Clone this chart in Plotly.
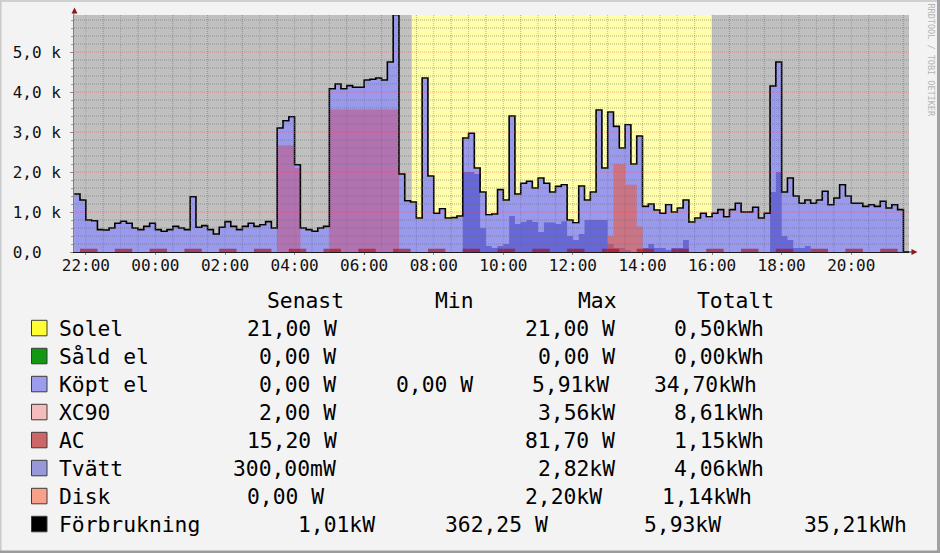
import plotly.graph_objects as go
from datetime import datetime, timedelta

# ---------------- DATA (kW, 10-minute steps starting 21:40) ----------------
slot_start = datetime(2024, 3, 10, 21, 40)
slot_minutes = 10

forbrukning = [
    1.45, 1.30, 0.80, 0.78, 0.56, 0.55, 0.60, 0.72, 0.77, 0.72, 0.60, 0.56,
    0.64, 0.72, 0.56, 0.52, 0.56, 0.64, 0.60, 0.56, 1.38, 0.62, 0.66, 0.56,
    0.45, 0.62, 0.76, 0.64, 0.56, 0.64, 0.72, 0.64, 0.68, 0.76, 0.60, 3.10,
    3.28, 3.38, 2.18, 0.60, 0.56, 0.52, 0.60, 0.64, 4.08, 4.20, 4.08, 4.16,
    4.12, 4.12, 4.30, 4.32, 4.35, 4.30, 4.75, 5.93, 1.95, 1.28, 1.25, 0.85,
    4.35, 1.90, 0.97, 1.08, 0.85, 0.86, 0.90, 2.85, 2.97, 2.10, 1.50, 0.93,
    0.95, 1.56, 1.30, 3.40, 1.45, 1.72, 1.77, 1.60, 1.85, 1.72, 1.50, 1.64,
    1.68, 0.80, 0.73, 1.65, 1.30, 1.50, 3.55, 2.10, 3.50, 3.14, 2.60, 3.18,
    2.20, 2.90, 1.14, 1.20, 1.05, 0.97, 1.18, 1.00, 1.10, 1.30, 0.75, 0.85,
    0.97, 0.88, 0.97, 1.06, 0.88, 1.06, 1.22, 1.00, 1.00, 1.12, 0.85, 0.97,
    4.15, 4.75, 1.50, 1.85, 1.40, 1.22, 1.30, 1.22, 1.30, 1.52, 1.18, 1.35,
    1.68, 1.40, 1.22, 1.22, 1.14, 1.18, 1.14, 1.27, 1.10, 1.18, 1.06, 0.00,
]

solel = [0.021] * len(forbrukning)  # constant 21 W all day (legend: min = max = 21,00 W)

xc90 = [
    0, 0, 0, 0, 0, 0, 0, 0, 0, 0, 0, 0,
    0, 0, 0, 0, 0, 0, 0, 0, 0, 0, 0, 0,
    0, 0, 0, 0, 0, 0, 0, 0, 0, 0, 0, 2.67,
    2.67, 2.67, 2.10, 0, 0, 0, 0, 0, 3.56, 3.56, 3.56, 3.56,
    3.56, 3.56, 3.56, 3.56, 3.56, 3.56, 3.56, 3.56, 0, 0, 0, 0,
    0, 0, 0, 0, 0, 0, 0, 0, 0, 0, 0, 0,
    0, 0, 0, 0, 0, 0, 0, 0, 0, 0, 0, 0,
    0, 0, 0, 0, 0, 0, 0, 0, 0, 0, 0, 0,
    0, 0, 0, 0, 0, 0, 0, 0, 0, 0, 0, 0,
    0, 0, 0, 0, 0, 0, 0, 0, 0, 0, 0, 0,
    0, 0, 0, 0, 0, 0, 0, 0, 0, 0, 0, 0,
    0, 0, 0, 0, 0, 0, 0, 0, 0, 0, 0, 0,
]

ac = [
    0, 0.08, 0.08, 0.08, 0, 0, 0, 0.08, 0.08, 0.08, 0, 0,
    0, 0.08, 0.08, 0.08, 0, 0, 0, 0.08, 0.08, 0.08, 0, 0,
    0, 0.08, 0.08, 0.08, 0, 0, 0, 0.08, 0.08, 0.08, 0, 0,
    0, 0.08, 0.08, 0.08, 0, 0, 0, 0.08, 0.08, 0.08, 0, 0,
    0, 0.08, 0.08, 0.08, 0, 0, 0, 0.08, 0.08, 0.08, 0, 0,
    0, 0.08, 0.08, 0.08, 0, 0, 0, 0.08, 0.08, 0.08, 0, 0,
    0, 0.08, 0.08, 0.08, 0, 0, 0, 0.08, 0.08, 0.08, 0, 0,
    0, 0.08, 0.08, 0.08, 0, 0, 0, 0.08, 0.08, 0.08, 0, 0,
    0, 0.08, 0.08, 0.08, 0, 0, 0, 0.08, 0.08, 0.08, 0, 0,
    0, 0.08, 0.08, 0.08, 0, 0, 0, 0.08, 0.08, 0.08, 0, 0,
    0, 0.08, 0.08, 0.08, 0, 0, 0, 0.08, 0.08, 0.08, 0, 0,
    0, 0.08, 0.08, 0.08, 0, 0, 0, 0.08, 0.08, 0.08, 0, 0,
]

tvatt = [
    0, 0, 0, 0, 0, 0, 0, 0, 0, 0, 0, 0,
    0, 0, 0, 0, 0, 0, 0, 0, 0, 0, 0, 0,
    0, 0, 0, 0, 0, 0, 0, 0, 0, 0, 0, 0,
    0, 0, 0, 0, 0, 0, 0, 0, 0, 0, 0, 0,
    0, 0, 0, 0, 0, 0, 0, 0, 0, 0, 0, 0,
    0, 0, 0, 0, 0, 0, 0, 2.00, 2.00, 1.95, 0.60, 0.15,
    0.10, 0.15, 0.20, 0.90, 0.70, 0.75, 0.80, 0.75, 0.50, 0.74, 0.74, 0.70,
    0.77, 0.40, 0.30, 0.45, 0.80, 0.80, 0.80, 0.80, 0.20, 0.10, 0.10, 0.05,
    0, 0, 0.10, 0.20, 0.10, 0.10, 0.05, 0.10, 0.10, 0.30, 0, 0,
    0, 0, 0, 0, 0, 0, 0, 0, 0, 0, 0, 0,
    1.50, 2.00, 0.40, 0.30, 0.10, 0.10, 0.15, 0, 0, 0, 0, 0,
    0, 0, 0, 0, 0, 0, 0, 0, 0, 0, 0, 0,
]

disk = [
    0, 0, 0, 0, 0, 0, 0, 0, 0, 0, 0, 0,
    0, 0, 0, 0, 0, 0, 0, 0, 0, 0, 0, 0,
    0, 0, 0, 0, 0, 0, 0, 0, 0, 0, 0, 0,
    0, 0, 0, 0, 0, 0, 0, 0, 0, 0, 0, 0,
    0, 0, 0, 0, 0, 0, 0, 0, 0, 0, 0, 0,
    0, 0, 0, 0, 0, 0, 0, 0, 0, 0, 0, 0,
    0, 0, 0, 0, 0, 0, 0, 0, 0, 0, 0, 0,
    0, 0, 0, 0, 0, 0, 0, 0, 0.40, 2.20, 2.20, 1.68,
    1.68, 0.64, 0.05, 0, 0, 0, 0, 0, 0, 0, 0, 0,
    0, 0, 0, 0, 0, 0, 0, 0, 0, 0, 0, 0,
    0, 0, 0, 0, 0, 0, 0, 0, 0, 0, 0, 0,
    0, 0, 0, 0, 0, 0, 0, 0, 0, 0, 0, 0,
]

# Köpt el = Förbrukning - Solel (as in the RRD definitions)
kopt_el = [max(0.0, f - s) for f, s in zip(forbrukning, solel)]

x_start = datetime(2024, 3, 10, 21, 39, 36)
x_end = x_start + timedelta(hours=24)
daylight_start = datetime(2024, 3, 11, 7, 22)
daylight_end = datetime(2024, 3, 11, 16, 0)

x_tick_times = [datetime(2024, 3, 10, 22, 0) + timedelta(hours=2 * k) for k in range(12)]
x_tick_labels = ["22:00", "00:00", "02:00", "04:00", "06:00", "08:00",
                 "10:00", "12:00", "14:00", "16:00", "18:00", "20:00"]
y_tick_vals = [0, 1, 2, 3, 4, 5]
y_tick_labels = ["0,0\u00a0\u00a0", "1,0 k", "2,0 k", "3,0 k", "4,0 k", "5,0 k"]

legend_names = ["Solel", "Såld el", "Köpt el", "XC90", "AC", "Tvätt", "Disk", "Förbrukning"]
legend_senast = ["21,00 W", "0,00 W", "0,00 W", "2,00 W", "15,20 W", "300,00mW", "0,00 W", "1,01kW"]
legend_min = ["", "", "0,00 W", "", "", "", "", "362,25 W"]
legend_max = ["21,00 W", "0,00 W", "5,91kW", "3,56kW", "81,70 W", "2,82kW", "2,20kW", "5,93kW"]
legend_tot = ["0,50kWh", "0,00kWh", "34,70kWh", "8,61kWh", "1,15kWh", "4,06kWh", "1,14kWh", "35,21kWh"]
legend_headers = ["Senast", "Min", "Max", "Totalt"]

# ---------------- STYLE / LAYOUT ----------------
W, H = 940, 553
L, R, T, B = 74, 31, 15, 301
PW, PH = W - L - R, H - T - B
Y_TOP = PH / 40.0  # 40 px per kW


def px(x):
    return (x - L) / PW


def py(y):
    return (H - B - y) / PH


MONO = "DejaVu Sans Mono"

fig = go.Figure()


def step_xy(vals):
    xs = [slot_start + timedelta(minutes=slot_minutes * i) for i in range(len(vals) + 1)]
    ys = list(vals) + [vals[-1]]
    return xs, ys


area_styles = [
    ("Köpt el", kopt_el, "#9999ee"),
    ("XC90", xc90, "rgba(255,0,0,0.25)"),
    ("Tvätt", tvatt, "rgba(0,0,170,0.32)"),
    ("Disk", disk, "rgba(255,77,29,0.5)"),
    ("AC", ac, "rgba(176,0,0,0.58)"),
]
for name, vals, col in area_styles:
    xs, ys = step_xy(vals)
    fig.add_trace(go.Scatter(x=xs, y=ys, mode="lines", name=name,
                             line=dict(width=0, shape="hv"),
                             fill="tozeroy", fillcolor=col, hoverinfo="skip"))

xs, ys = step_xy(forbrukning)
fig.add_trace(go.Scatter(x=xs, y=ys, mode="lines", name="Förbrukning",
                         line=dict(color="#000000", width=1.6, shape="hv"),
                         hoverinfo="skip"))

shapes = []
# daylight background
shapes.append(dict(type="rect", xref="x", yref="paper", x0=daylight_start, x1=daylight_end,
                   y0=0, y1=1, fillcolor="#ffffaa", line=dict(width=0), layer="below"))

# grid (drawn on top like rrdtool)
MINOR = "rgba(110,110,110,0.55)"
MAJOR = "rgba(255,60,60,0.45)"
DOT = "1px,1px"
k = 1
while k * 0.2 < Y_TOP:
    v = k * 0.2
    major = (k % 5 == 0)
    shapes.append(dict(type="line", xref="paper", yref="y", x0=0, x1=1, y0=v, y1=v,
                       line=dict(color=MAJOR if major else MINOR, width=1, dash=DOT), layer="above"))
    k += 1
t = datetime(2024, 3, 10, 22, 0)
while t < x_end:
    shapes.append(dict(type="line", xref="x", yref="paper", x0=t, x1=t, y0=0, y1=1,
                       line=dict(color=MAJOR, width=1, dash=DOT), layer="above"))
    th = t + timedelta(minutes=30)
    if th < x_end:
        shapes.append(dict(type="line", xref="x", yref="paper", x0=th, x1=th, y0=0, y1=1,
                           line=dict(color=MINOR, width=1, dash=DOT), layer="above"))
    t += timedelta(hours=1)

# axis extensions and arrows
shapes.append(dict(type="line", xref="paper", yref="paper", x0=1, x1=px(913), y0=0, y1=0,
                   line=dict(color="#1a1a1a", width=1)))
shapes.append(dict(type="path", xref="paper", yref="paper",
                   path=f"M {px(911.5)},{py(249)} L {px(917.5)},{py(252)} L {px(911.5)},{py(255)} Z",
                   fillcolor="#8b1a1a", line=dict(width=0)))
shapes.append(dict(type="line", xref="paper", yref="paper", x0=0, x1=0, y0=1, y1=py(11),
                   line=dict(color="#7f7f7f", width=1)))
shapes.append(dict(type="path", xref="paper", yref="paper",
                   path=f"M {px(71.5)},{py(13.5)} L {px(74.5)},{py(7.5)} L {px(77.5)},{py(13.5)} Z",
                   fillcolor="#8b1a1a", line=dict(width=0)))

# frame
shapes.append(dict(type="rect", xref="paper", yref="paper", x0=px(0), x1=px(940), y0=py(0), y1=py(2),
                   fillcolor="#d0d0d0", line=dict(width=0)))
shapes.append(dict(type="rect", xref="paper", yref="paper", x0=px(0), x1=px(1.5), y0=py(0), y1=py(553),
                   fillcolor="#cacaca", line=dict(width=0)))
shapes.append(dict(type="rect", xref="paper", yref="paper", x0=px(937), x1=px(940), y0=py(0), y1=py(553),
                   fillcolor="#a2a2a2", line=dict(width=0)))
shapes.append(dict(type="rect", xref="paper", yref="paper", x0=px(0), x1=px(940), y0=py(550.5), y1=py(553),
                   fillcolor="#9c9c9c", line=dict(width=0)))

# legend boxes
box_colors = ["#ffff33", "#129812", "#9c9cec", "#f5bcbc", "#cd6767", "#9898d8", "#f8a08a", "#000000"]
row_y0 = 328.3
row_dy = 28.0
for i, c in enumerate(box_colors):
    cy = row_y0 + i * row_dy
    shapes.append(dict(type="rect", xref="paper", yref="paper",
                       x0=px(31.5), x1=px(47), y0=py(cy - 8), y1=py(cy + 7.5),
                       fillcolor=c, line=dict(color="#3a3a3a", width=1)))

annotations = []
LFONT = dict(family=MONO, size=21.33, color="#000000")


def txt(x, y, s, font=LFONT, anchor="left"):
    annotations.append(dict(xref="paper", yref="paper", x=px(x), y=py(y), text=s,
                            showarrow=False, xanchor=anchor, yanchor="middle",
                            font=font, borderpad=0, borderwidth=0))


hdr_x = [266.7, 435.0, 577.7, 696.7]
for hx, h in zip(hdr_x, legend_headers):
    txt(hx, 300.7, h)

col_sen = [246.7, 259.3, 259.3, 259.3, 246.7, 233.3, 246.7, 297.7]
col_min = [None, None, 395.7, None, None, None, None, 445.0]
col_max = [525.0, 538.3, 531.7, 538.3, 525.0, 538.3, 525.0, 644.3]
col_tot = [674.0, 674.0, 654.3, 674.0, 674.0, 674.0, 662.0, 804.3]
for i in range(len(legend_names)):
    cy = row_y0 + i * row_dy
    txt(58.7, cy, legend_names[i])
    txt(col_sen[i], cy, legend_senast[i])
    if col_min[i] is not None:
        txt(col_min[i], cy, legend_min[i])
    txt(col_max[i], cy, legend_max[i])
    txt(col_tot[i], cy, legend_tot[i])

annotations.append(dict(xref="paper", yref="paper", x=px(930.5), y=py(60), text="RRDTOOL / TOBI OETIKER",
                        showarrow=False, textangle=90, xanchor="center", yanchor="middle",
                        font=dict(family=MONO, size=8.5, color="#b4b4b4")))

fig.update_layout(
    width=W, height=H, autosize=False,
    margin=dict(l=L, r=R, t=T, b=B, pad=0),
    paper_bgcolor="#f3f3f3", plot_bgcolor="#c0c0c0",
    showlegend=False,
    shapes=shapes, annotations=annotations,
    xaxis=dict(type="date", range=[x_start, x_end], showgrid=False, zeroline=False,
               showline=True, linecolor="#1a1a1a", linewidth=1,
               tickmode="array", tickvals=x_tick_times, ticktext=x_tick_labels,
               ticks="outside", ticklen=2, tickcolor="#888888", ticklabelstandoff=-3,
               tickfont=dict(family=MONO, size=16, color="#111111"), fixedrange=True),
    yaxis=dict(range=[0, Y_TOP], showgrid=False, zeroline=False,
               showline=True, linecolor="#7f7f7f", linewidth=1,
               tickmode="array", tickvals=y_tick_vals, ticktext=y_tick_labels,
               ticks="outside", ticklen=3, tickcolor="#888888",
               minor=dict(dtick=0.2, ticks="outside", ticklen=2, tickcolor="#999999", showgrid=False),
               ticklabelstandoff=6,
               tickfont=dict(family=MONO, size=16, color="#111111"), fixedrange=True),
)

fig.write_html("out.html", config={"displayModeBar": False},
               post_script="document.body.style.margin='0';document.body.style.overflow='hidden';")
